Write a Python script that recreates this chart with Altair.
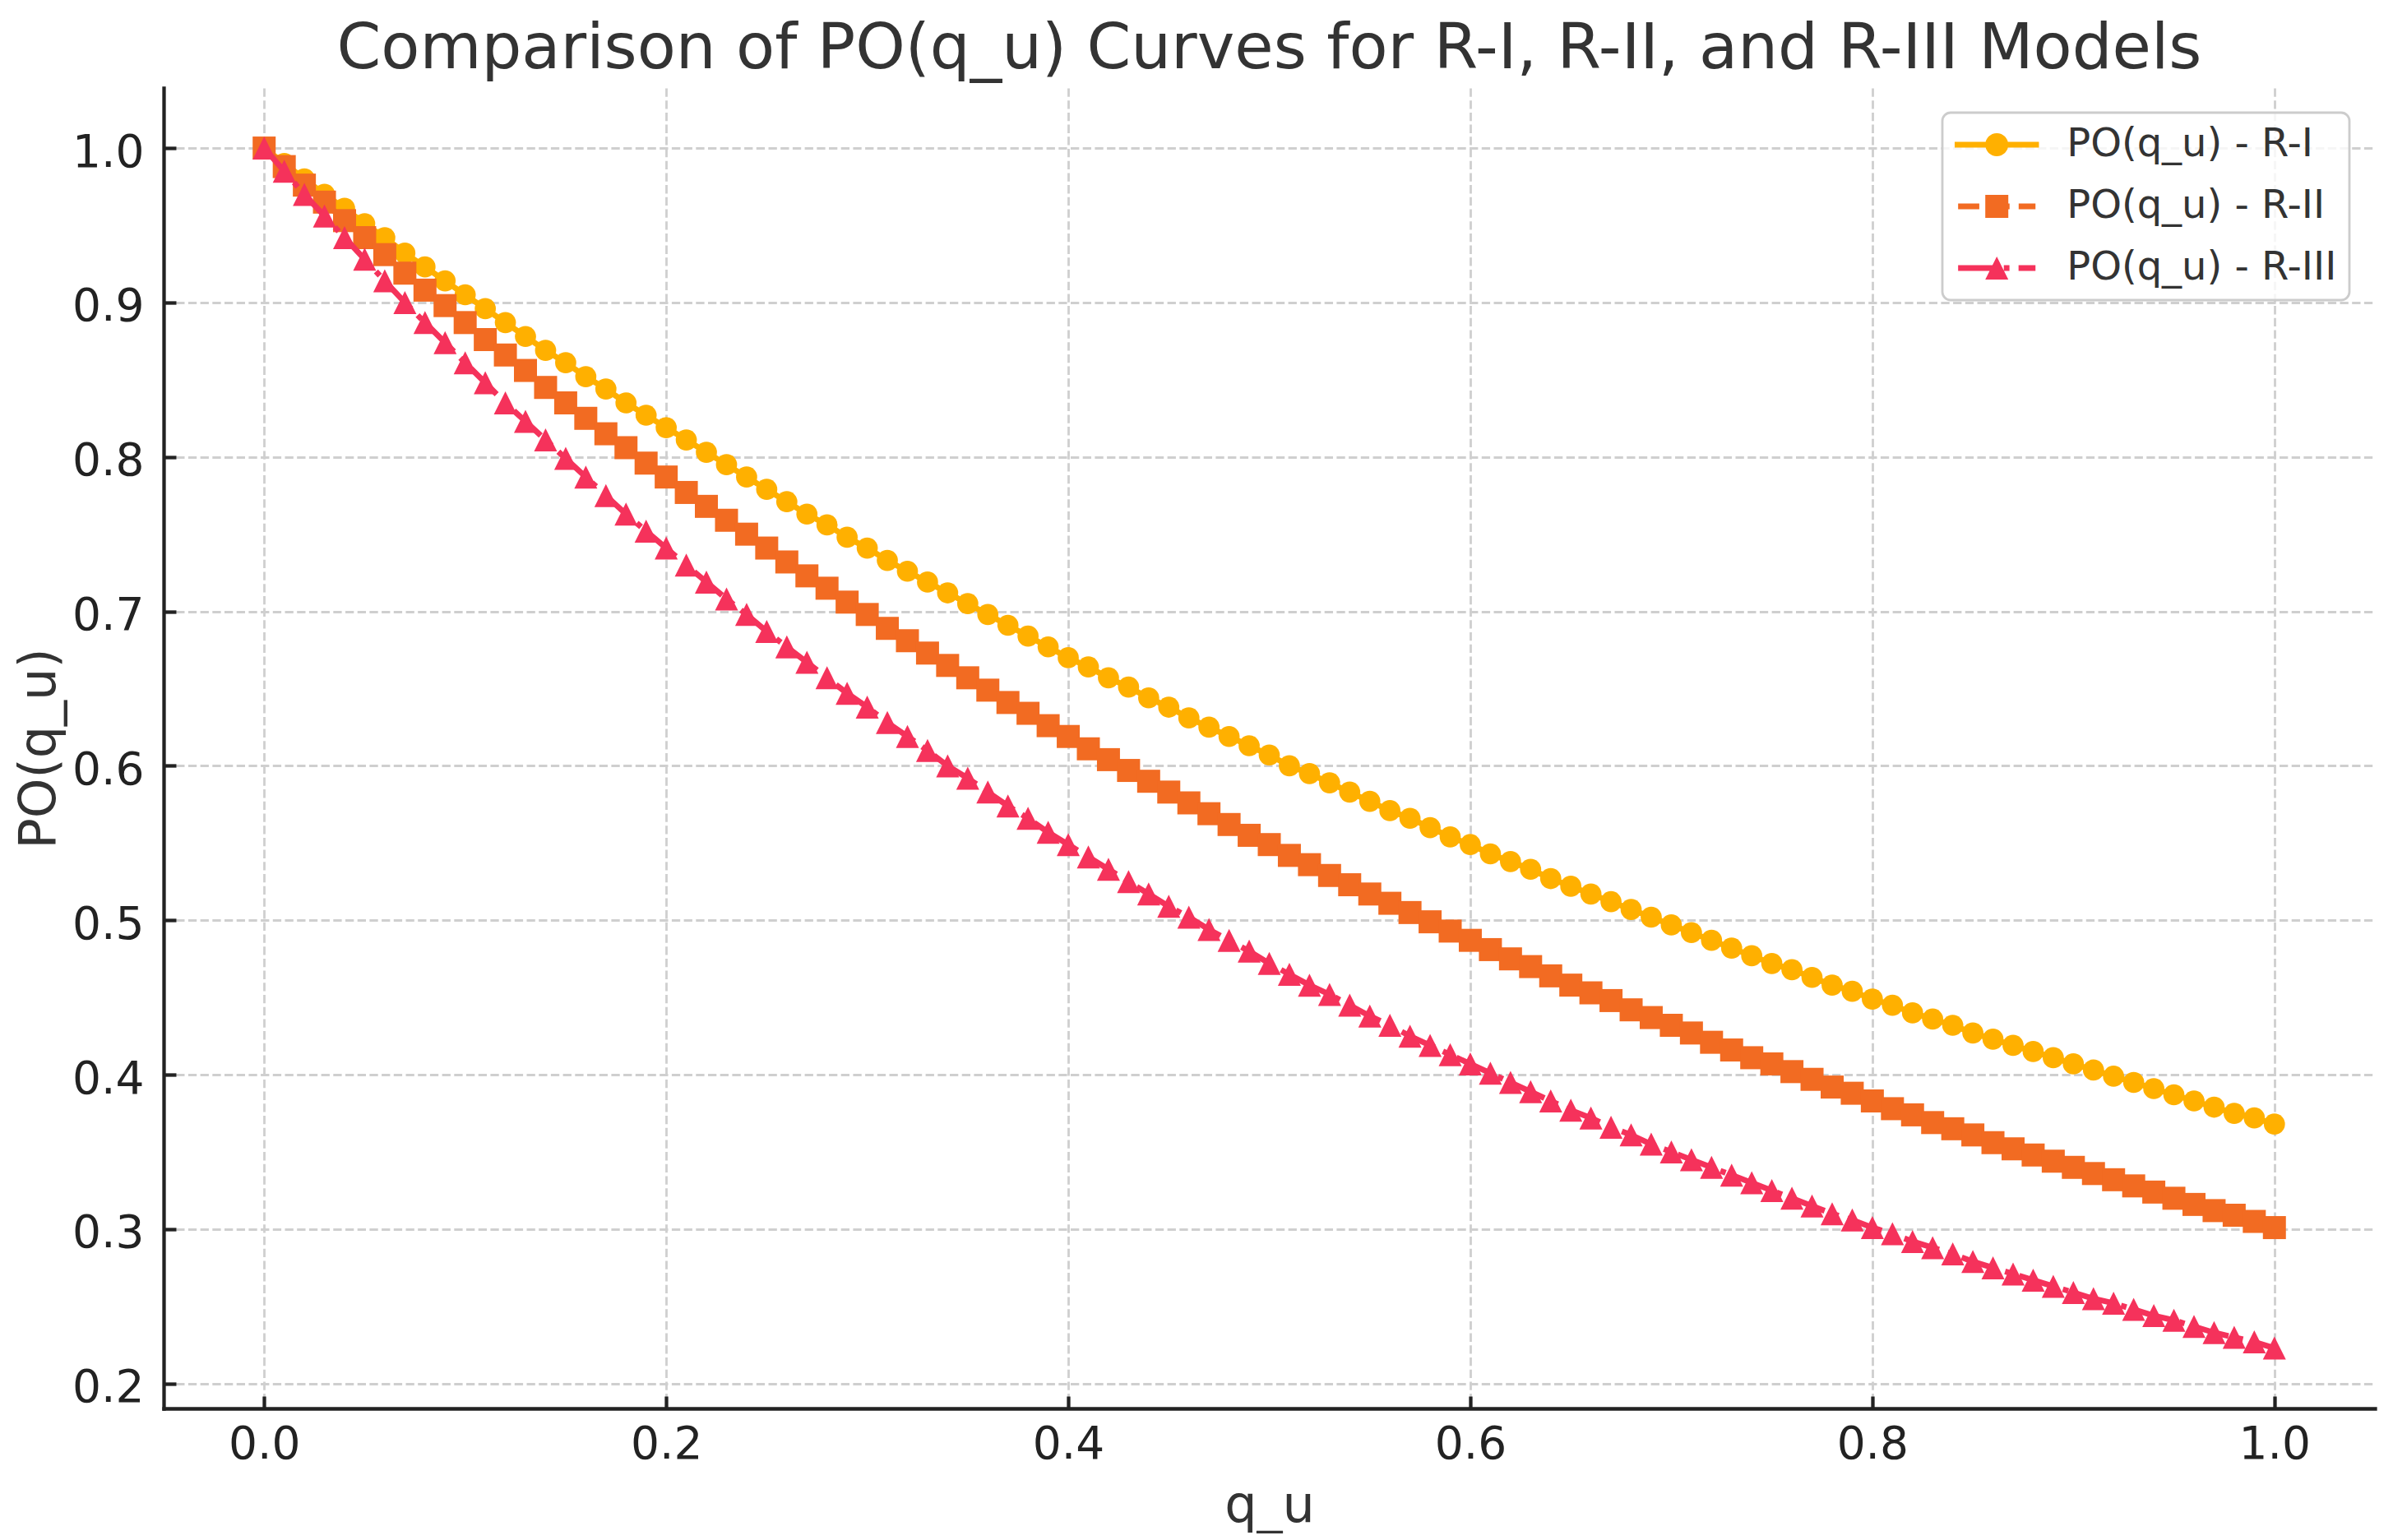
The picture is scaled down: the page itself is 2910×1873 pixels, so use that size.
import altair as alt
import pandas as pd

q_u = [0.00, 0.01, 0.02, 0.03, 0.04, 0.05, 0.06, 0.07, 0.08, 0.09,
       0.10, 0.11, 0.12, 0.13, 0.14, 0.15, 0.16, 0.17, 0.18, 0.19,
       0.20, 0.21, 0.22, 0.23, 0.24, 0.25, 0.26, 0.27, 0.28, 0.29,
       0.30, 0.31, 0.32, 0.33, 0.34, 0.35, 0.36, 0.37, 0.38, 0.39,
       0.40, 0.41, 0.42, 0.43, 0.44, 0.45, 0.46, 0.47, 0.48, 0.49,
       0.50, 0.51, 0.52, 0.53, 0.54, 0.55, 0.56, 0.57, 0.58, 0.59,
       0.60, 0.61, 0.62, 0.63, 0.64, 0.65, 0.66, 0.67, 0.68, 0.69,
       0.70, 0.71, 0.72, 0.73, 0.74, 0.75, 0.76, 0.77, 0.78, 0.79,
       0.80, 0.81, 0.82, 0.83, 0.84, 0.85, 0.86, 0.87, 0.88, 0.89,
       0.90, 0.91, 0.92, 0.93, 0.94, 0.95, 0.96, 0.97, 0.98, 0.99,
       1.00]

po_r1 = [1.000, 0.990, 0.980, 0.970, 0.961, 0.951, 0.942, 0.932, 0.923, 0.914,
         0.905, 0.896, 0.887, 0.878, 0.869, 0.861, 0.852, 0.844, 0.835, 0.827,
         0.819, 0.811, 0.803, 0.795, 0.787, 0.779, 0.771, 0.763, 0.756, 0.748,
         0.741, 0.733, 0.726, 0.719, 0.712, 0.705, 0.698, 0.691, 0.684, 0.677,
         0.670, 0.664, 0.657, 0.651, 0.644, 0.638, 0.631, 0.625, 0.619, 0.613,
         0.607, 0.600, 0.595, 0.589, 0.583, 0.577, 0.571, 0.566, 0.560, 0.554,
         0.549, 0.543, 0.538, 0.533, 0.527, 0.522, 0.517, 0.512, 0.507, 0.502,
         0.497, 0.492, 0.487, 0.482, 0.477, 0.472, 0.468, 0.463, 0.458, 0.454,
         0.449, 0.445, 0.440, 0.436, 0.432, 0.427, 0.423, 0.419, 0.415, 0.411,
         0.407, 0.403, 0.399, 0.395, 0.391, 0.387, 0.383, 0.379, 0.375, 0.372,
         0.368]

po_r2 = [1.000, 0.988, 0.976, 0.965, 0.953, 0.942, 0.931, 0.919, 0.908, 0.898,
         0.887, 0.876, 0.866, 0.856, 0.845, 0.835, 0.825, 0.815, 0.806, 0.796,
         0.787, 0.777, 0.768, 0.759, 0.750, 0.741, 0.732, 0.723, 0.715, 0.706,
         0.698, 0.689, 0.681, 0.673, 0.665, 0.657, 0.649, 0.641, 0.634, 0.626,
         0.619, 0.611, 0.604, 0.597, 0.590, 0.583, 0.576, 0.569, 0.562, 0.555,
         0.549, 0.542, 0.536, 0.529, 0.523, 0.517, 0.511, 0.505, 0.499, 0.493,
         0.487, 0.481, 0.475, 0.470, 0.464, 0.458, 0.453, 0.448, 0.442, 0.437,
         0.432, 0.427, 0.421, 0.416, 0.411, 0.407, 0.402, 0.397, 0.392, 0.388,
         0.383, 0.378, 0.374, 0.369, 0.365, 0.361, 0.356, 0.352, 0.348, 0.344,
         0.340, 0.336, 0.332, 0.328, 0.324, 0.320, 0.316, 0.312, 0.309, 0.305,
         0.301]

po_r3 = [1.000, 0.985, 0.970, 0.956, 0.942, 0.928, 0.914, 0.900, 0.887, 0.874,
         0.861, 0.848, 0.835, 0.823, 0.811, 0.799, 0.787, 0.775, 0.763, 0.752,
         0.741, 0.730, 0.719, 0.708, 0.698, 0.687, 0.677, 0.667, 0.657, 0.647,
         0.638, 0.628, 0.619, 0.610, 0.600, 0.592, 0.583, 0.574, 0.566, 0.557,
         0.549, 0.541, 0.533, 0.525, 0.517, 0.509, 0.502, 0.494, 0.487, 0.480,
         0.472, 0.465, 0.458, 0.452, 0.445, 0.438, 0.432, 0.425, 0.419, 0.413,
         0.407, 0.401, 0.395, 0.389, 0.383, 0.377, 0.372, 0.366, 0.361, 0.355,
         0.350, 0.345, 0.340, 0.335, 0.330, 0.325, 0.320, 0.315, 0.310, 0.306,
         0.301, 0.297, 0.292, 0.288, 0.284, 0.279, 0.275, 0.271, 0.267, 0.263,
         0.259, 0.255, 0.252, 0.248, 0.244, 0.241, 0.237, 0.233, 0.230, 0.227,
         0.223]

series_names = ["PO(q_u) - R-I", "PO(q_u) - R-II", "PO(q_u) - R-III"]
series_colors = ["#FFB000", "#F26B22", "#F5325B"]
x_ticks = [0.0, 0.2, 0.4, 0.6, 0.8, 1.0]
y_ticks = [0.2, 0.3, 0.4, 0.5, 0.6, 0.7, 0.8, 0.9, 1.0]
title_text = "Comparison of PO(q_u) Curves for R-I, R-II, and R-III Models"

rows = []
for name, vals in zip(series_names, [po_r1, po_r2, po_r3]):
    for q, v in zip(q_u, vals):
        rows.append({"q": q, "po": v, "series": name})
df = pd.DataFrame(rows)

W, H = 2689, 1606
FONT = "DejaVu Sans"
xs = alt.Scale(domain=[-0.05, 1.05], nice=False, zero=False)
ys = alt.Scale(domain=[0.1839, 1.0389], nice=False, zero=False)

main_x_axis = alt.Axis(orient="bottom", values=x_ticks, format=".1f", ticks=False, tickSize=0,
                       labelPadding=17, labelFlush=False, domain=True, grid=True,
                       title="q_u", titleY=137, titleBaseline="alphabetic")
main_y_axis = alt.Axis(orient="left", values=y_ticks, format=".1f", ticks=False, tickSize=0,
                       labelPadding=24, labelOffset=5, labelFlush=False, domain=True, grid=True,
                       title="PO(q_u)", titleX=-133, titleY=H / 2, titleAngle=270,
                       titleBaseline="alphabetic", titleAlign="center")
tick_x_axis = alt.Axis(orient="top", offset=-H, values=x_ticks, labels=False, domain=False,
                       grid=False, ticks=True, tickSize=15, title=None)
tick_y_axis = alt.Axis(orient="right", offset=-W, values=y_ticks, labels=False, domain=False,
                       grid=False, ticks=True, tickSize=15, title=None)

shapes = ["circle", "square", "M0,-1L1,1L-1,1Z"]
sizes = [660, 784, 784]
dashes = [None, [25.7, 11.1], [44.4, 11.1, 6.9, 11.1]]

layers = []
for i, name in enumerate(series_names):
    base = alt.Chart(df).transform_filter(alt.datum.series == name)
    line_kw = dict(color=series_colors[i], strokeWidth=7, strokeJoin="round")
    if dashes[i] is not None:
        line_kw["strokeDash"] = dashes[i]
    line = base.mark_line(**line_kw).encode(
        x=alt.X("q:Q", scale=xs, axis=main_x_axis if i == 0 else None),
        y=alt.Y("po:Q", scale=ys, axis=main_y_axis if i == 0 else None),
    )
    pts = base.mark_point(filled=True, shape=shapes[i], size=sizes[i], color=series_colors[i],
                          opacity=1, strokeWidth=0).encode(
        x=alt.X("q:Q", scale=xs, axis=tick_x_axis if i == 0 else None),
        y=alt.Y("po:Q", scale=ys, axis=tick_y_axis if i == 0 else None),
    )
    layers += [line, pts]

legend_paths = [
    "M-3.66,-0.25L3.66,-0.25L3.66,0.25L-3.66,0.25Z M-1,0A1,1,0,1,1,1,0A1,1,0,1,1,-1,0Z",
    "M-3.36,-0.25L-1.52,-0.25L-1.52,0.25L-3.36,0.25Z M-0.73,-0.25L1.11,-0.25L1.11,0.25L-0.73,0.25Z "
    "M1.9,-0.25L3.36,-0.25L3.36,0.25L1.9,0.25Z M-1,-1L1,-1L1,1L-1,1Z",
    "M-3.36,-0.25L-0.19,-0.25L-0.19,0.25L-3.36,0.25Z M0.61,-0.25L1.1,-0.25L1.1,0.25L0.61,0.25Z "
    "M1.89,-0.25L3.36,-0.25L3.36,0.25L1.89,0.25Z M0,-1L1,1L-1,1Z",
]

leg = alt.Legend(title=None, orient="none", legendX=2163, legendY=30, padding=15, rowPadding=27,
                 symbolOffset=27.2, labelOffset=61, symbolSize=784, symbolStrokeWidth=0,
                 symbolOpacity=1, labelFont=FONT, labelFontSize=48, labelColor="#333333",
                 labelLimit=1000, fillColor="rgba(255,255,255,0.8)", strokeColor="#cccccc",
                 cornerRadius=10)

legend_layer = alt.Chart(df).transform_filter("datum.q < -1").mark_point(
    filled=True, opacity=1, size=784, strokeWidth=0).encode(
    x=alt.X("q:Q", scale=xs, axis=None),
    y=alt.Y("po:Q", scale=ys, axis=None),
    color=alt.Color("series:N", scale=alt.Scale(domain=series_names, range=series_colors), legend=leg),
    shape=alt.Shape("series:N", scale=alt.Scale(domain=series_names, range=legend_paths), legend=leg),
)
layers.append(legend_layer)

chart = alt.layer(*layers).resolve_axis(x="independent", y="independent").properties(
    width=W, height=H,
    background="white",
    title=alt.TitleParams(text=title_text, font=FONT, fontSize=77, color="#333333",
                          fontWeight="normal", anchor="middle", frame="group", offset=25,
                          dy=78, baseline="alphabetic"),
    padding={"left": 191, "top": 99, "right": 14, "bottom": 152},
    autosize=alt.AutoSizeParams(type="none"),
).configure_view(stroke=None).configure_axis(
    labelFont=FONT, labelFontSize=55, labelColor="#222222",
    titleFont=FONT, titleFontSize=62, titleColor="#333333", titleFontWeight="normal",
    domainColor="#222222", domainWidth=4.3, domainCap="square",
    tickColor="#222222", tickWidth=4.3,
    gridColor="#cfcfcf", gridWidth=2.8, gridDash=[10.3, 4.4],
).configure_legend(strokeWidth=2.8)

chart.save("out.html", embed_options={"renderer": "svg", "actions": False})
